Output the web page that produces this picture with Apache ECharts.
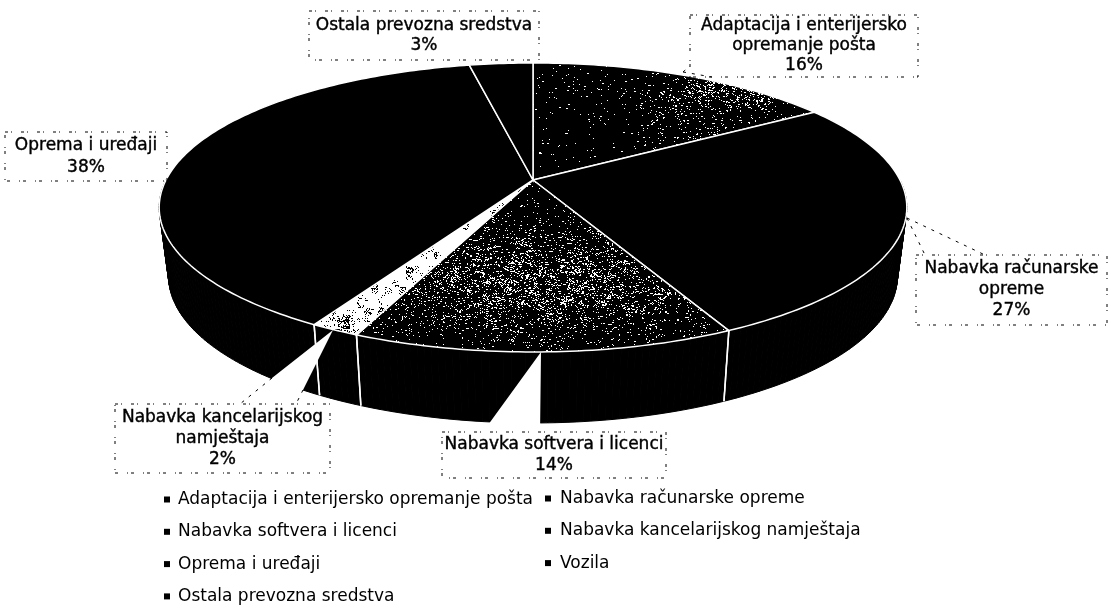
<!DOCTYPE html>
<html>
<head>
<meta charset="utf-8">
<style>
  html, body { margin: 0; padding: 0; background: #fff; }
  #chart { width: 1117px; height: 616px; }
</style>
<script src="https://cdn.jsdelivr.net/npm/echarts@6/dist/echarts.min.js"></script>
</head>
<body>
<div id="chart"></div>
<script>
// share of each investment group, starts at 12 o'clock and goes clockwise
const categories = [
  'Adaptacija i enterijersko opremanje pošta',
  'Nabavka računarske opreme',
  'Nabavka softvera i licenci',
  'Nabavka kancelarijskog namještaja',
  'Oprema i uređaji',
  'Vozila',
  'Ostala prevozna sredstva'
]
const values = [16.0, 26.7, 13.8, 1.8, 38.4, 0, 3.3]

const legendLeft = [categories[0], categories[2], categories[4], categories[6]]
const legendRight = [categories[1], categories[3], categories[5]]

// callout text, one entry per printed line (percent is added from values)
const calloutLines = [
  ['Adaptacija i enterijersko', 'opremanje pošta'],
  ['Nabavka računarske', 'opreme'],
  ['Nabavka softvera i licenci'],
  ['Nabavka kancelarijskog', 'namještaja'],
  ['Oprema i uređaji'],
  null,
  ['Ostala prevozna sredstva']
]
const calloutBoxes = [
  { x: 690, y: 15, w: 228, h: 62, lineH: 20 },
  { x: 916, y: 255, w: 191, h: 70, lineH: 21 },
  { x: 442, y: 432, w: 224, h: 46, lineH: 21 },
  { x: 115, y: 404, w: 215, h: 69, lineH: 21 },
  { x: 5, y: 132, w: 162, h: 49, lineH: 22 },
  null,
  { x: 309, y: 11, w: 230, h: 49, lineH: 20 }
]

// the pie is tilted, so the circle goes through a perspective map
const cx = 533, cy = 180, k = -0.19, bx = 367, by = 139.3
const wallDrop = 68, wallShrink = 0.975

const total = values.reduce((a, b) => a + b, 0)

let rimPoint = (angle, lower) => {
  let u = Math.sin(angle)
  let v = -Math.cos(angle)
  let d = 1 + k * v
  let x = bx * u / d
  let y = by * v / d
  if (lower) {
    return [cx + x * wallShrink, cy + y + wallDrop + 3 * v]
  }
  return [cx + x, cy + y]
}

let arcPoints = (a0, a1, lower) => {
  let pts = []
  let n = Math.max(2, Math.ceil((a1 - a0) * 60))
  for (let i = 0; i <= n; i++) {
    pts.push(rimPoint(a0 + (a1 - a0) * i / n, lower))
  }
  return pts
}

// scan grain for the lighter slices, one page sized texture per slice
let noise = (x, y) => {
  let h = Math.imul(x, 73856093) ^ Math.imul(y, 19349663)
  h = Math.imul(h ^ (h >>> 13), 1274126177)
  h = Math.imul(h ^ (h >>> 16), 2246822519)
  return ((h ^ (h >>> 15)) >>> 0) / 4294967296
}
let blob = (x, y, mx, my, sx, sy) => Math.exp(-((x - mx) * (x - mx)) / (2 * sx * sx) - ((y - my) * (y - my)) / (2 * sy * sy))

let grain = (densityAt) => {
  let c = document.createElement('canvas')
  c.width = 1117
  c.height = 616
  let g = c.getContext('2d')
  g.fillStyle = '#000'
  g.fillRect(0, 0, 1117, 616)
  g.fillStyle = '#fff'
  for (let y = 40; y < 360; y++) {
    for (let x = 300; x < 830; x++) {
      let clump = 0.35 + 1.3 * noise(Math.floor(x / 7) + 1000, Math.floor(y / 7) + 2000)
      if (noise(x, y) < densityAt(x, y) * clump) {
        g.fillRect(x, y, 1 + (noise(y + 500, x) > 0.8 ? 1 : 0), 1)
      }
    }
  }
  return c
}

const sliceTextures = [
  (x, y) => 0.012 + 0.2 * blob(x, y, 735, 92, 45, 10) + 0.06 * blob(x, y, 690, 115, 35, 22),
  null,
  (x, y) => 0.015 + 0.18 * blob(x, y, 535, 282, 115, 32),
  (x, y) => 1.3 - 0.75 * blob(x, y, 345, 322, 26, 20),
  null,
  null,
  null
]

let sliceFill = (i) => {
  if (!sliceTextures[i]) return '#000'
  return { image: grain(sliceTextures[i]), repeat: 'no-repeat' }
}

let startOf = (i) => values.slice(0, i).reduce((a, b) => a + b, 0) / total * Math.PI * 2

let series = categories.map((name, i) => {
  let fill = sliceFill(i)
  return {
    type: 'custom',
    name: name,
    coordinateSystem: 'none',
    silent: true,
    animation: false,
    itemStyle: { color: '#000' },
    data: [values[i]],
    renderItem: () => {
      if (!values[i]) return { type: 'group', children: [] }
      let a0 = startOf(i)
      let a1 = startOf(i + 1)
      let top = arcPoints(a0, a1, false)
      let low = arcPoints(a0, a1, true)
      let children = []
      // the wall is swept step by step so its outline stays closed at the sides,
      // the back part is hidden by the top anyway
      for (let s = 0; s < top.length - 1; s++) {
        if (top[s][1] < cy && top[s + 1][1] < cy) continue
        children.push({
          type: 'polygon',
          z2: 1,
          shape: { points: [top[s], top[s + 1], low[s + 1], low[s]] },
          style: { fill: '#000', stroke: '#000', lineWidth: 1 }
        })
      }
      ;[0, top.length - 1].forEach(s => {
        children.push({
          type: 'line',
          z2: 2,
          shape: { x1: top[s][0], y1: top[s][1], x2: low[s][0], y2: low[s][1] },
          style: { stroke: '#fff', lineWidth: 1.5 }
        })
      })
      children.push({
        type: 'polygon',
        z2: 3,
        shape: { points: [[cx, cy]].concat(top) },
        style: { fill: fill, stroke: '#fff', lineWidth: 1.5 }
      })
      return { type: 'group', children: children }
    }
  }
})

let boxDash = { stroke: '#000', lineWidth: 1, lineDash: [3, 3, 1, 9], fill: 'transparent' }
let graphics = []

// white wedges where the callouts cut into the wall of the pie
const wedges = [
  [[541, 352], [488, 425], [470, 436], [540, 436]],
  [[333, 330], [272, 378], [240, 406], [296, 406], [303, 390]]
]
wedges.forEach(p => {
  graphics.push({
    type: 'polygon', z: 10, silent: true,
    shape: { points: p },
    style: { fill: '#fff' }
  })
})
const leaders = [
  [[907, 218], [925, 255]], [[907, 218], [985, 255]],
  [[272, 378], [240, 404]], [[303, 390], [296, 404]],
  [[683, 72], [690, 66]], [[683, 72], [712, 77]]
]
leaders.forEach(l => {
  graphics.push({
    type: 'polyline', z: 11, silent: true,
    shape: { points: l },
    style: { stroke: '#000', lineWidth: 1, lineDash: [3, 6], fill: 'none' }
  })
})

categories.forEach((name, i) => {
  let b = calloutBoxes[i]
  if (!b) return
  graphics.push({
    type: 'rect', z: 11, silent: true,
    shape: { x: b.x, y: b.y, width: b.w, height: b.h },
    style: boxDash
  })
  let lines = calloutLines[i].concat([Math.round(values[i] / total * 100) + '%'])
  let y0 = b.y + b.h / 2 - (lines.length - 1) * b.lineH / 2
  lines.forEach((t, j) => {
    graphics.push({
      type: 'text', z: 12, silent: true,
      x: b.x + b.w / 2,
      y: y0 + j * b.lineH,
      style: {
        text: t,
        fill: '#000',
        stroke: '#000',
        lineWidth: 0.4,
        font: '17px "DejaVu Sans"',
        textAlign: 'center',
        textVerticalAlign: 'middle'
      }
    })
  })
})

let legendBase = {
  orient: 'vertical',
  icon: 'rect',
  itemWidth: 6,
  itemHeight: 6,
  itemGap: 15.3,
  selectedMode: false
}

let chart = echarts.init(document.getElementById('chart'))
chart.setOption({
  animation: false,
  backgroundColor: '#fff',
  tooltip: { show: false },
  legend: [
    Object.assign({}, legendBase, {
      data: legendLeft, left: 159, top: 486,
      textStyle: { color: '#000', fontFamily: 'DejaVu Sans', fontSize: 17, padding: [0, 0, 0, 3] }
    }),
    Object.assign({}, legendBase, {
      data: legendRight, left: 540, top: 485,
      textStyle: { color: '#000', fontFamily: 'DejaVu Sans', fontSize: 17, padding: [0, 0, 0, 4] }
    })
  ],
  series: series,
  graphic: { elements: graphics }
})
</script>
</body>
</html>
